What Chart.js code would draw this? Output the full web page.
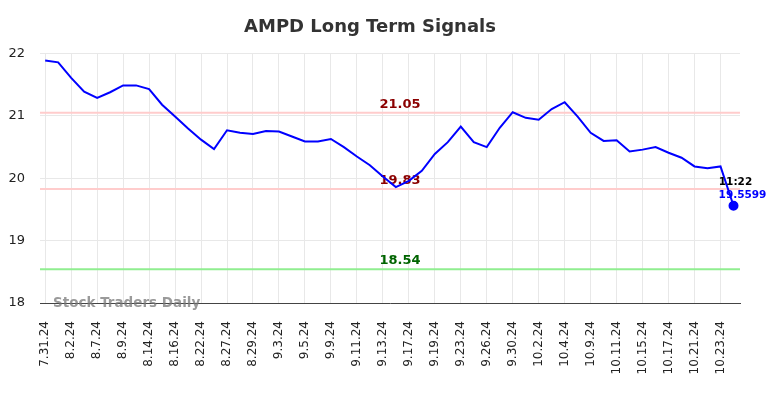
<!DOCTYPE html>
<html>
<head>
<meta charset="utf-8">
<script src="https://cdn.jsdelivr.net/npm/chart.js@4.4.1/dist/chart.umd.min.js"></script>
<style>
  html, body { margin: 0; padding: 0; background: #fff; }
  #wrap { width: 784px; height: 398px; }
</style>
</head>
<body>
<div id="wrap"><canvas id="chart" width="784" height="398"></canvas></div>
<script>
// tick labels (every second point carries a date)
const tickDates = ['7.31.24', '8.2.24', '8.7.24', '8.9.24', '8.14.24', '8.16.24', '8.22.24', '8.27.24',
    '8.29.24', '9.3.24', '9.5.24', '9.9.24', '9.11.24', '9.13.24', '9.17.24', '9.19.24', '9.23.24',
    '9.26.24', '9.30.24', '10.2.24', '10.4.24', '10.9.24', '10.11.24', '10.15.24', '10.17.24',
    '10.21.24', '10.23.24'];

// closing prices, one per point
const prices = [21.89, 21.86, 21.61, 21.39, 21.29, 21.38, 21.49, 21.49, 21.43, 21.18,
    20.99, 20.80, 20.62, 20.47, 20.77, 20.73, 20.71, 20.76, 20.75, 20.67,
    20.59, 20.59, 20.63, 20.50, 20.35, 20.21, 20.03, 19.86, 19.96, 20.12,
    20.39, 20.58, 20.83, 20.58, 20.50, 20.81, 21.06, 20.97, 20.94, 21.11,
    21.22, 20.99, 20.73, 20.60, 20.61, 20.43, 20.46, 20.50, 20.41, 20.33,
    20.19, 20.16, 20.19, 19.5599];

// signal levels
const resistance = [21.05, 19.83];
const support    = [18.54];
const lastTime   = '11:22';
const lastPrice  = '19.5599';

const FONT = '"DejaVu Sans", sans-serif';

const levelsPlugin = {
    id: 'levels',
    beforeDatasetsDraw(chart) {
        const { ctx, chartArea: a, scales: { y } } = chart;
        ctx.save();
        ctx.lineWidth = 2;
        resistance.forEach(v => {
            const py = y.getPixelForValue(v);
            ctx.strokeStyle = '#ffcccc';
            ctx.beginPath(); ctx.moveTo(a.left, py); ctx.lineTo(a.right, py); ctx.stroke();
        });
        support.forEach(v => {
            const py = y.getPixelForValue(v);
            ctx.strokeStyle = '#90ee90';
            ctx.beginPath(); ctx.moveTo(a.left, py); ctx.lineTo(a.right, py); ctx.stroke();
        });
        ctx.font = 'bold 13px ' + FONT;
        ctx.textAlign = 'center';
        ctx.textBaseline = 'bottom';
        const cx = (a.left + a.right) / 2 + 10;
        resistance.forEach(v => {
            ctx.fillStyle = '#8b0000';
            ctx.fillText(v.toFixed(2), cx, y.getPixelForValue(v) - 2);
        });
        support.forEach(v => {
            ctx.fillStyle = '#006400';
            ctx.fillText(v.toFixed(2), cx, y.getPixelForValue(v) - 2);
        });
        // watermark
        ctx.font = 'bold 13.5px ' + FONT;
        ctx.textAlign = 'left';
        ctx.textBaseline = 'middle';
        ctx.fillStyle = 'rgba(120,120,120,0.75)';
        ctx.fillText('Stock Traders Daily', a.left + 13, a.bottom);
        ctx.restore();
    },
    afterDatasetsDraw(chart) {
        const { ctx, scales: { x, y } } = chart;
        const i = prices.length - 1;
        const px = x.getPixelForValue(i);
        const py = y.getPixelForValue(prices[i]);
        ctx.save();
        ctx.font = 'bold 10.5px ' + FONT;
        ctx.textAlign = 'center';
        ctx.textBaseline = 'middle';
        ctx.fillStyle = '#000';
        ctx.fillText(lastTime, px + 2, py - 23);
        ctx.fillStyle = '#0000ff';
        ctx.fillText(lastPrice, px + 9, py - 10);
        ctx.restore();
    }
};

new Chart(document.getElementById('chart'), {
    type: 'line',
    data: {
        datasets: [{
            data: prices.map((v, i) => ({ x: i, y: v })),
            borderColor: '#0000ff',
            backgroundColor: '#0000ff',
            borderWidth: 2,
            tension: 0,
            pointRadius: ctx => ctx.dataIndex === prices.length - 1 ? 4 : 0,
            pointHoverRadius: 0
        }]
    },
    options: {
        responsive: false,
        animation: false,
        layout: { padding: { top: 0, right: 44, left: 0, bottom: 0 } },
        plugins: {
            legend: { display: false },
            tooltip: { enabled: false },
            title: {
                display: true,
                text: 'AMPD Long Term Signals',
                color: '#333',
                font: { family: FONT, size: 18, weight: 'bold' },
                padding: { top: 17, bottom: 15 }
            }
        },
        scales: {
            x: {
                type: 'linear',
                min: -0.4,
                max: 53.5,
                grid: { color: '#e8e8e8', drawTicks: false },
                border: { color: '#444', width: 1 },
                afterFit: s => { s.height = 95; },
                ticks: {
                    stepSize: 2,
                    includeBounds: false,
                    autoSkip: false,
                    minRotation: 90,
                    maxRotation: 90,
                    padding: 18,
                    color: '#222',
                    font: { family: FONT, size: 12 },
                    callback: v => tickDates[v / 2] || ''
                }
            },
            y: {
                min: 18,
                max: 22,
                grid: { color: '#e8e8e8', drawTicks: false },
                border: { display: false },
                afterFit: s => { s.width = 40; },
                ticks: {
                    stepSize: 1,
                    padding: 15,
                    color: '#222',
                    font: { family: FONT, size: 13 }
                }
            }
        }
    },
    plugins: [levelsPlugin]
});
</script>
</body>
</html>
